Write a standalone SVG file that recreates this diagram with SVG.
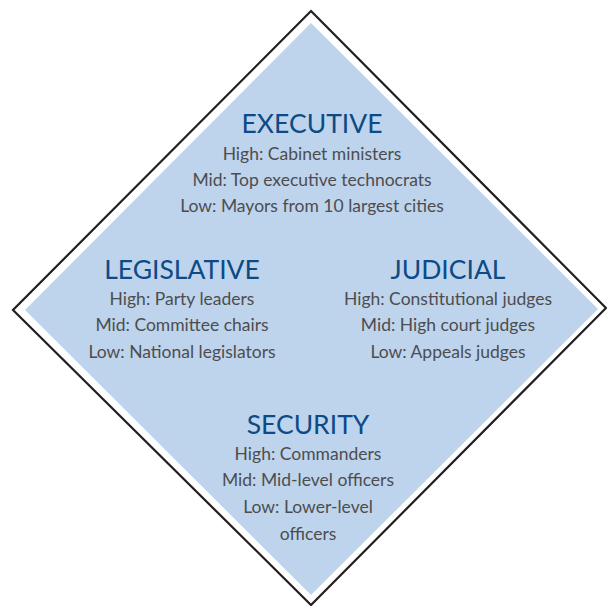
<svg xmlns="http://www.w3.org/2000/svg" width="607" height="606" viewBox="0 0 607 606">
<style>
.t{font-family:Lato,"Open Sans","DejaVu Sans",sans-serif;font-size:26.5px;fill:#0d4a86;text-anchor:middle}
.b{font-family:Lato,"Open Sans","DejaVu Sans",sans-serif;font-size:17.5px;fill:#4d4d4f;text-anchor:middle}
</style>
<rect width="607" height="606" fill="#ffffff"/>
<g id="frame">
<polygon points="311,11 606,308 311,605 13,310" fill="#ffffff" stroke="#231f20" stroke-width="2.2" stroke-linejoin="miter"/>
<polygon points="311,23 598,309 311,595 25,310" fill="#bdd4ec"/>
</g>
<g id="executive">
<text class="t" x="312" y="133">EXECUTIVE</text>
<text class="b" x="312" y="160">High: Cabinet ministers</text>
<text class="b" x="312" y="186">Mid: Top executive technocrats</text>
<text class="b" x="312" y="212">Low: Mayors from 10 largest cities</text>
</g>
<g id="legislative">
<text class="t" x="182" y="279">LEGISLATIVE</text>
<text class="b" x="182" y="305">High: Party leaders</text>
<text class="b" x="182" y="331">Mid: Committee chairs</text>
<text class="b" x="182" y="358">Low: National legislators</text>
</g>
<g id="judicial">
<text class="t" x="448" y="279">JUDICIAL</text>
<text class="b" x="448" y="305">High: Constitutional judges</text>
<text class="b" x="448" y="331">Mid: High court judges</text>
<text class="b" x="448" y="358">Low: Appeals judges</text>
</g>
<g id="security">
<text class="t" x="308" y="434">SECURITY</text>
<text class="b" x="308" y="460">High: Commanders</text>
<text class="b" x="308" y="486">Mid: Mid-level officers</text>
<text class="b" x="308" y="513">Low: Lower-level</text>
<text class="b" x="308" y="540">officers</text>
</g>
</svg>
